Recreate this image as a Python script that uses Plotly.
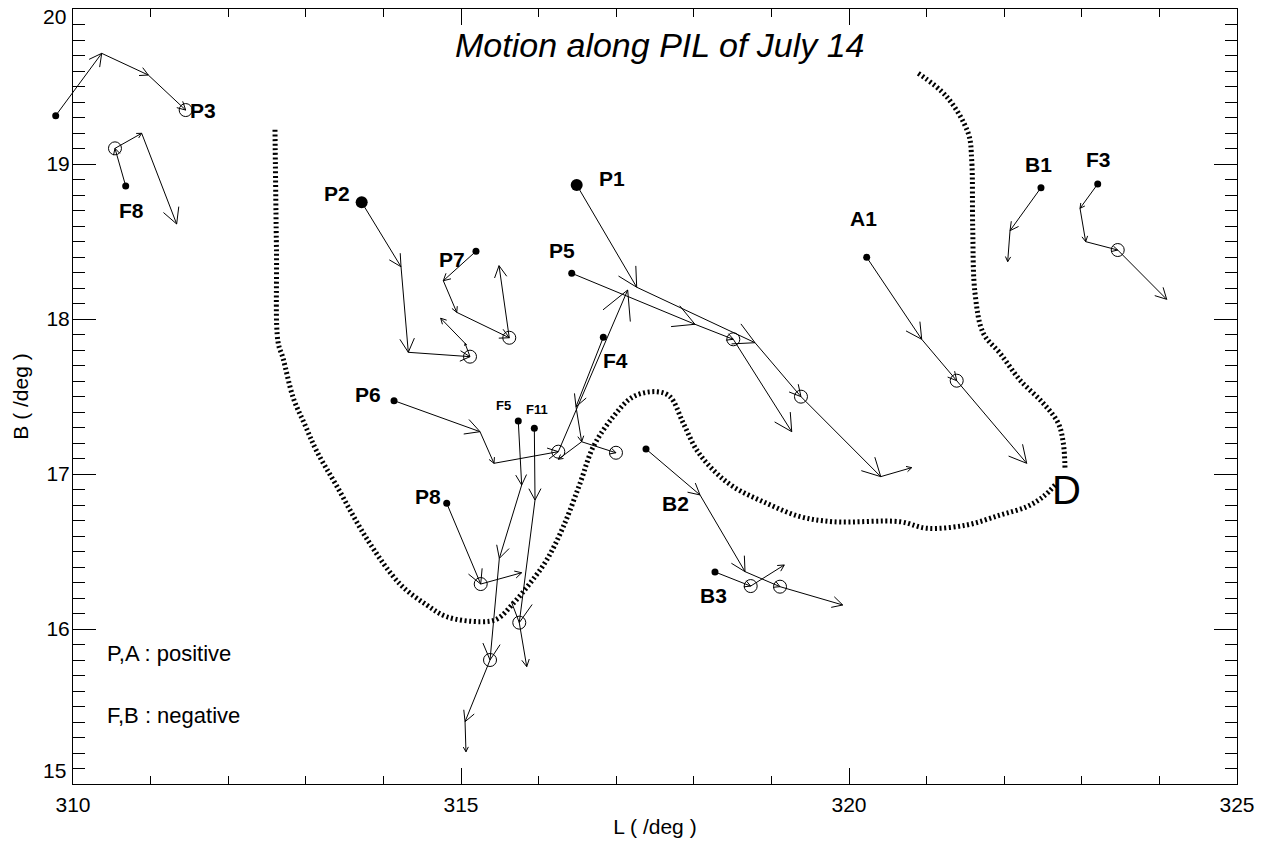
import math
import plotly.graph_objects as go

# ---------------- data (L, B in degrees) ----------------
X_RANGE = [310, 325]
Y_RANGE = [15, 20]
X_TICKS = [310, 315, 320, 325]
Y_TICKS = [15, 16, 17, 18, 19, 20]
Y_TICK_TEXT = ["", "16", "17", "18", "19", ""]   # end labels are set inside the frame
Y_END_LABELS = ["15", "20"]

# feature tracks: successive positions; first one is the start dot,
# CIRC index = position marked with an open circle
P3_L = [309.777, 310.370, 310.970, 311.452]
P3_B = [19.312, 19.714, 19.574, 19.348]
P3_CIRC = 3

F8_L = [310.679, 310.541, 310.885, 311.336]
F8_B = [18.858, 19.101, 19.198, 18.613]
F8_CIRC = 1

P2_L = [313.720, 314.227, 314.321, 315.116, 315.052, 314.738]
P2_B = [18.753, 18.337, 17.785, 17.757, 17.843, 18.005]
P2_CIRC = 3

P7_L = [315.193, 314.772, 314.945, 315.622, 315.490]
P7_B = [18.437, 18.247, 18.043, 17.879, 18.344]
P7_CIRC = 3

P1_L = [316.491, 317.264, 318.789, 319.381, 320.409, 320.808]
P1_B = [18.865, 18.205, 17.847, 17.499, 16.983, 17.041]
P1_CIRC = 3

P5_L = [316.427, 318.015, 318.509, 319.262]
P5_B = [18.295, 17.966, 17.869, 17.273]
P5_CIRC = 2

P6_L = [314.137, 315.245, 315.425, 316.254, 317.148]
P6_B = [17.473, 17.273, 17.069, 17.144, 18.187]
P6_CIRC = 3

F4_L = [316.834, 316.482, 316.555, 316.997]
F4_B = [17.882, 17.434, 17.208, 17.137]
F4_CIRC = 3
F4_BRANCH_L = [316.555, 316.254]
F4_BRANCH_B = [17.208, 17.095]

F5_L = [315.738, 315.782, 315.494, 315.374, 315.052, 315.064]
F5_B = [17.342, 16.929, 16.456, 15.800, 15.402, 15.208]
F5_CIRC = 3

F11_L = [315.945, 315.954, 315.751, 315.847]
F11_B = [17.295, 16.832, 16.041, 15.757]
F11_CIRC = 2

P8_L = [314.816, 315.254, 315.782]
P8_B = [16.811, 16.290, 16.363]
P8_CIRC = 1

B2_L = [317.384, 318.080, 318.660, 319.111, 319.919]
B2_B = [17.161, 16.865, 16.370, 16.273, 16.155]
B2_CIRC = 3

B3_L = [318.273, 318.733, 319.166]
B3_B = [16.368, 16.277, 16.413]
B3_CIRC = 1

A1_L = [320.228, 320.937, 321.388, 322.290]
A1_B = [18.398, 17.869, 17.602, 17.069]
A1_CIRC = 2

B1_L = [322.474, 322.075, 322.045]
B1_B = [18.847, 18.570, 18.370]
B1_CIRC = None

F3_L = [323.205, 322.977, 323.050, 323.463, 324.094]
F3_B = [18.871, 18.714, 18.499, 18.445, 18.127]
F3_CIRC = 3

BIG_DOTS = ["P1", "P2"]

# polarity inversion line (PIL) traces
PIL1_L = [312.603, 312.622, 312.642, 312.706, 312.839, 312.990, 313.140, 313.398,
          313.785, 314.214, 314.558, 314.816, 315.245, 315.460, 315.674, 315.889,
          316.104, 316.318, 316.534, 316.705, 316.963, 317.220, 317.522, 317.693,
          317.865, 318.037, 318.251, 318.509, 318.939, 319.369, 319.798, 320.657,
          321.001, 321.517, 321.946, 322.290, 322.504, 322.655]
PIL1_B = [19.221, 18.445, 17.852, 17.748, 17.490, 17.316, 17.148, 16.923,
          16.583, 16.290, 16.155, 16.079, 16.047, 16.063, 16.166, 16.295,
          16.445, 16.660, 16.940, 17.176, 17.370, 17.499, 17.531, 17.499,
          17.327, 17.155, 17.026, 16.918, 16.811, 16.725, 16.692, 16.692,
          16.650, 16.671, 16.735, 16.789, 16.854, 16.929]
PIL2_L = [320.893, 321.259, 321.537, 321.581, 321.594, 321.624, 321.731, 321.946,
          322.204, 322.504, 322.697, 322.762, 322.784]
PIL2_B = [19.585, 19.434, 19.198, 19.026, 18.595, 18.166, 17.908, 17.779,
          17.606, 17.456, 17.327, 17.198, 17.026]

# labels
LABELS = ["P3", "F8", "P2", "P7", "P1", "P5", "P6", "P8", "F4", "B2", "B3", "A1", "B1", "F3"]
LABEL_L = [311.675, 310.756, 313.398, 314.880, 316.942, 316.298, 313.805, 314.579,
           316.985, 317.758, 318.251, 320.184, 322.440, 323.213]
LABEL_B = [19.348, 18.703, 18.811, 18.385, 18.908, 18.445, 17.516, 16.854,
           17.735, 16.811, 16.219, 18.650, 18.998, 19.026]
SMALL_LABELS = ["F5", "F11"]
SMALL_LABEL_L = [315.545, 315.976]
SMALL_LABEL_B = [17.445, 17.417]
D_LABEL = ("D", 322.805, 16.897)

TITLE = "Motion along PIL of July 14"
LEGEND_LINES = ["P,A : positive", "F,B : negative"]

# ---------------- layout geometry ----------------
W, H = 1268, 843
ML, MR, MT, MB = 40, 31, 9, 59
FRAME_LEFT = 73
plot_w = W - ML - MR
plot_h = H - MT - MB
d0 = (FRAME_LEFT - ML) / plot_w
data_x_lo = X_RANGE[0] - (X_RANGE[1] - X_RANGE[0]) * d0 / (1 - d0)
sx = (W - MR - FRAME_LEFT) / (X_RANGE[1] - X_RANGE[0])  # px per degree L
sy = plot_h / (Y_RANGE[1] - Y_RANGE[0])                 # px per degree B

HEAD_FRAC = 0.18
HEAD_ANG = math.radians(28)

tracks = {
    "P3": (P3_L, P3_B, P3_CIRC), "F8": (F8_L, F8_B, F8_CIRC),
    "P2": (P2_L, P2_B, P2_CIRC), "P7": (P7_L, P7_B, P7_CIRC),
    "P1": (P1_L, P1_B, P1_CIRC), "P5": (P5_L, P5_B, P5_CIRC),
    "P6": (P6_L, P6_B, P6_CIRC), "F4": (F4_L, F4_B, F4_CIRC),
    "F5": (F5_L, F5_B, F5_CIRC), "F11": (F11_L, F11_B, F11_CIRC),
    "P8": (P8_L, P8_B, P8_CIRC), "B2": (B2_L, B2_B, B2_CIRC),
    "B3": (B3_L, B3_B, B3_CIRC), "A1": (A1_L, A1_B, A1_CIRC),
    "B1": (B1_L, B1_B, B1_CIRC), "F3": (F3_L, F3_B, F3_CIRC),
}

shaft_x, shaft_y, head_x, head_y = [], [], [], []


def add_arrow(x0, y0, x1, y1):
    shaft_x.extend([x0, x1, None])
    shaft_y.extend([y0, y1, None])
    dx, dy = (x1 - x0) * sx, (y1 - y0) * sy
    ln = math.hypot(dx, dy)
    if ln == 0:
        return
    h = HEAD_FRAC * ln
    ux, uy = dx / ln, dy / ln
    for s in (1, -1):
        c, si = math.cos(s * HEAD_ANG), math.sin(s * HEAD_ANG)
        rx, ry = ux * c - uy * si, ux * si + uy * c
        head_x.extend([x1 - h * rx / sx, x1, None])
        head_y.extend([y1 - h * ry / sy, y1, None])


dot_x, dot_y, big_x, big_y, circ_x, circ_y = [], [], [], [], [], []
for name, (Ls, Bs, ci) in tracks.items():
    for i in range(len(Ls) - 1):
        add_arrow(Ls[i], Bs[i], Ls[i + 1], Bs[i + 1])
    if name in BIG_DOTS:
        big_x.append(Ls[0]); big_y.append(Bs[0])
    else:
        dot_x.append(Ls[0]); dot_y.append(Bs[0])
    if ci is not None:
        circ_x.append(Ls[ci]); circ_y.append(Bs[ci])
add_arrow(F4_BRANCH_L[0], F4_BRANCH_B[0], F4_BRANCH_L[1], F4_BRANCH_B[1])

fig = go.Figure()
PIL_STYLE = dict(color="black", width=5, dash="2px,2.6px")
fig.add_trace(go.Scatter(x=PIL1_L, y=PIL1_B, mode="lines", line=dict(PIL_STYLE, shape="spline"),
                         hoverinfo="skip"))
fig.add_trace(go.Scatter(x=PIL2_L, y=PIL2_B, mode="lines", line=dict(PIL_STYLE, shape="spline"),
                         hoverinfo="skip"))
fig.add_trace(go.Scatter(x=shaft_x, y=shaft_y, mode="lines",
                         line=dict(color="black", width=1), hoverinfo="skip"))
fig.add_trace(go.Scatter(x=head_x, y=head_y, mode="lines",
                         line=dict(color="black", width=1), hoverinfo="skip"))
fig.add_trace(go.Scatter(x=circ_x, y=circ_y, mode="markers",
                         marker=dict(symbol="circle-open", size=13, color="black",
                                     line=dict(width=1)), cliponaxis=False))
fig.add_trace(go.Scatter(x=dot_x, y=dot_y, mode="markers",
                         marker=dict(symbol="circle", size=7, color="black"), cliponaxis=False))
fig.add_trace(go.Scatter(x=big_x, y=big_y, mode="markers",
                         marker=dict(symbol="circle", size=12, color="black"), cliponaxis=False))

FONT = "Liberation Sans, Arial, sans-serif"
ann = []
for t, x, y in zip(LABELS, LABEL_L, LABEL_B):
    ann.append(dict(x=x, y=y, xref="x", yref="y", text="<b>%s</b>" % t, showarrow=False,
                    font=dict(family=FONT, size=21, color="black")))
for t, x, y in zip(SMALL_LABELS, SMALL_LABEL_L, SMALL_LABEL_B):
    ann.append(dict(x=x, y=y, xref="x", yref="y", text="<b>%s</b>" % t, showarrow=False,
                    font=dict(family=FONT, size=13, color="black")))
ann.append(dict(x=D_LABEL[1], y=D_LABEL[2], xref="x", yref="y", text=D_LABEL[0],
                showarrow=False, font=dict(family=FONT, size=40, color="black")))
ann.append(dict(x=(660 - ML) / plot_w, y=(H - MB - 45) / plot_h, xref="paper", yref="paper",
                text="<i>%s</i>" % TITLE, showarrow=False, xanchor="center", yanchor="middle",
                font=dict(family=FONT, size=34, color="black")))
for i, (t, py) in enumerate(zip(LEGEND_LINES, [653, 715])):
    ann.append(dict(x=(105 - ML) / plot_w, y=(H - MB - py) / plot_h, xref="paper", yref="paper",
                    text=t, showarrow=False, xanchor="left", yanchor="middle",
                    font=dict(family=FONT, size=22, color="black")))
# y end labels (15 and 20) sit just inside the frame height, as in the original
for t, yv, yshift in zip(Y_END_LABELS, [Y_RANGE[0], Y_RANGE[1]], [14, -7]):
    ann.append(dict(x=d0, y=yv, xref="paper", yref="y", text=t, showarrow=False,
                    xanchor="right", yanchor="middle", xshift=-5, yshift=yshift,
                    font=dict(family=FONT, size=21, color="black")))

axis_common = dict(showgrid=False, zeroline=False, showline=True, linecolor="black",
                   linewidth=1, mirror="allticks", ticks="inside", tickcolor="black",
                   tickwidth=1, ticklabeloverflow="allow",
                   tickfont=dict(family=FONT, size=21, color="black"))

fig.update_layout(
    width=W, height=H, margin=dict(l=ML, r=MR, t=MT, b=MB),
    paper_bgcolor="white", plot_bgcolor="rgba(0,0,0,0)", showlegend=False,
    xaxis=dict(domain=[0, 1], range=[data_x_lo, X_RANGE[1]], visible=False),
    yaxis=dict(domain=[0, 1], range=Y_RANGE, visible=False),
    xaxis2=dict(domain=[d0, 1], range=X_RANGE, anchor="y2",
                tickvals=X_TICKS, ticklen=16, ticklabelstandoff=2,
                minor=dict(ticks="inside", ticklen=8, dtick=1, tickcolor="black", tickwidth=1),
                title=dict(text="L ( /deg )", standoff=4,
                           font=dict(family=FONT, size=21, color="black")),
                automargin=False, **axis_common),
    yaxis2=dict(domain=[0, 1], range=Y_RANGE, anchor="x2",
                tickvals=Y_TICKS, ticktext=Y_TICK_TEXT, ticklen=23, ticklabelstandoff=-2,
                minor=dict(ticks="inside", ticklen=12, dtick=0.1, tickcolor="black", tickwidth=1),
                title=dict(text="B ( /deg )", standoff=12,
                           font=dict(family=FONT, size=21, color="black")),
                automargin=False, **axis_common),
    annotations=ann,
)
# invisible trace so the frame axes are drawn
fig.add_trace(go.Scatter(x=[X_RANGE[0]], y=[Y_RANGE[0]], xaxis="x2", yaxis="y2",
                         mode="markers", marker=dict(opacity=0), hoverinfo="skip"))

fig.write_html("out.html", config={"displayModeBar": False},
               post_script="document.body.style.margin='0';")
